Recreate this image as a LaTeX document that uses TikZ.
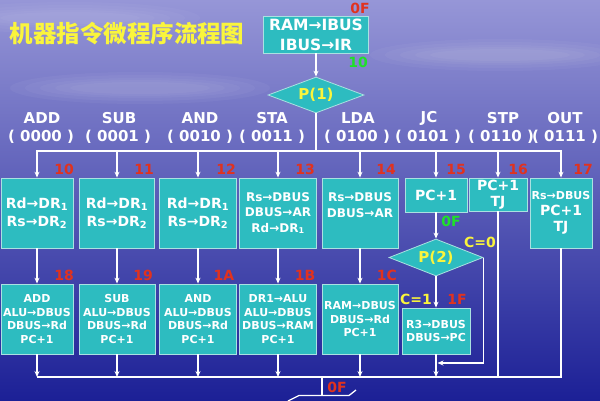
\documentclass[tikz,border=0pt]{standalone}
\usepackage{fontspec}
\setmainfont{DejaVu Sans}
\newfontfamily\cjk{Noto Sans CJK SC}
\usetikzlibrary{shapes.geometric,arrows.meta}
\definecolor{bgtop}{RGB}{150,150,215}
\definecolor{bgmid}{RGB}{70,72,188}
\definecolor{bgbot}{RGB}{28,32,150}
\definecolor{boxfill}{RGB}{45,188,192}
\definecolor{boxedge}{RGB}{170,225,225}
\definecolor{labred}{RGB}{225,50,30}
\definecolor{labgreen}{RGB}{30,225,40}
\definecolor{labyellow}{RGB}{250,245,60}
\tikzset{
  box/.style={draw=boxedge, line width=0.8pt, fill=boxfill, text=white, align=center, inner sep=0pt},
  dia/.style={diamond, aspect=2.7, draw=boxedge, line width=0.8pt, fill=boxfill, text=labyellow, inner sep=0pt, font=\fontsize{15}{15}\selectfont\bfseries},
  wl/.style={white, line width=1.6pt},
  ar/.style={wl, -{Stealth[length=6pt,width=5pt]}},
  lab/.style={text=white, inner sep=0pt, font=\fontsize{15}{15}\selectfont\bfseries},
  redlab/.style={text=labred, inner sep=0pt, font=\fontsize{14}{14}\selectfont\bfseries},
  greenlab/.style={text=labgreen, inner sep=0pt, font=\fontsize{14}{14}\selectfont\bfseries},
  yellab/.style={text=labyellow, inner sep=0pt, font=\fontsize{14}{14}\selectfont\bfseries},
  fA/.style={font=\fontsize{14}{18}\selectfont\bfseries},
  fB/.style={font=\fontsize{12}{15.5}\selectfont\bfseries},
  fC/.style={font=\fontsize{11}{13.5}\selectfont\bfseries},
}
\begin{document}
\begin{tikzpicture}[x=1pt,y=-1pt]
% background
\shade[top color=bgtop, middle color=bgmid, bottom color=bgbot] (0,0) rectangle (600,400);
\useasboundingbox (0,0) rectangle (600,400);
% faint clouds
\foreach \a/\b in {130/16,115/13,100/10,85/8,70/6}{
  \fill[white, opacity=0.04] (500,55) ellipse (\a pt and \b pt);
  \fill[white, opacity=0.04] (140,88) ellipse (\a pt and \b pt);
  \fill[white, opacity=0.035] (70,18) ellipse (\a pt and \b pt);
}

% title
\node[text=labyellow, inner sep=0pt, font=\cjk\fontsize{23.5}{23.5}\selectfont\bfseries] (title) at (127,34) {机器指令微程序流程图};

% top box and P(1)
\node[box, font=\fontsize{15.5}{20}\selectfont\bfseries, minimum width=105, minimum height=37] (top) at (316,34.5) {RAM→IBUS\\IBUS→IR};
\node[redlab] (l0Ftop) at (360,8) {0F};
\node[greenlab] (l10top) at (358,62) {10};
\node[dia, minimum width=96, minimum height=36] (p1) at (316,95) {P(1)};

% opcode labels
\node[lab] (nADD) at (42,118) {ADD};
\node[lab] (nSUB) at (119,118) {SUB};
\node[lab] (nAND) at (200,118) {AND};
\node[lab] (nSTA) at (272,118) {STA};
\node[lab] (nLDA) at (358,118) {LDA};
\node[lab] (nJC) at (429,118) {JC};
\node[lab] (nSTP) at (503,118) {STP};
\node[lab] (nOUT) at (565,118) {OUT};
\node[lab] (cADD) at (41,137) {( 0000 )};
\node[lab] (cSUB) at (118,137) {( 0001 )};
\node[lab] (cAND) at (200,137) {( 0010 )};
\node[lab] (cSTA) at (272,137) {( 0011 )};
\node[lab] (cLDA) at (357,137) {( 0100 )};
\node[lab] (cJC) at (428,137) {( 0101 )};
\node[lab] (cSTP) at (501,137) {( 0110 )};
\node[lab] (cOUT) at (565,137) {( 0111 )};

% row 1
\node[box, fA, minimum width=72, minimum height=70] (b10) at (37,213) {Rd→DR\textsubscript{1}\\Rs→DR\textsubscript{2}};
\node[box, fA, minimum width=75, minimum height=70] (b11) at (117,213) {Rd→DR\textsubscript{1}\\Rs→DR\textsubscript{2}};
\node[box, fA, minimum width=77, minimum height=70] (b12) at (198,213) {Rd→DR\textsubscript{1}\\Rs→DR\textsubscript{2}};
\node[box, fB, minimum width=77, minimum height=70] (b13) at (278,213) {Rs→DBUS\\DBUS→AR\\Rd→DR\textsubscript{1}};
\node[box, font=\fontsize{12}{16}\selectfont\bfseries, minimum width=76, minimum height=70] (b14) at (360,213) {Rs→DBUS\\DBUS→AR\\~};
\node[box, fA, minimum width=62, minimum height=34] (b15) at (436,195) {PC+1};
\node[box, font=\fontsize{14}{16}\selectfont\bfseries, minimum width=58, minimum height=33] (b16) at (498,194.5) {PC+1\\TJ};
\node[box, font=\fontsize{14}{16}\selectfont\bfseries, minimum width=62, minimum height=70] (b17) at (561,213) {{\fontsize{11}{16}\selectfont Rs→DBUS}\\PC+1\\TJ};
\node[redlab] (l10) at (64,169) {10};
\node[redlab] (l11) at (144,169) {11};
\node[redlab] (l12) at (226,169) {12};
\node[redlab] (l13) at (305,169) {13};
\node[redlab] (l14) at (386,169) {14};
\node[redlab] (l15) at (456,169) {15};
\node[redlab] (l16) at (518,169) {16};
\node[redlab] (l17) at (583,169) {17};

% P(2)
\node[dia, minimum width=94, minimum height=37] (p2) at (436,257.5) {P(2)};
\node[greenlab] (l0Fg) at (451,221) {0F};
\node[yellab] (lc0) at (480,242) {C=0};
\node[yellab] (lc1) at (416,299) {C=1};

% row 2
\node[box, fC, minimum width=72, minimum height=70] (b18) at (37,319) {ADD\\ALU→DBUS\\DBUS→Rd\\PC+1};
\node[box, fC, minimum width=76, minimum height=70] (b19) at (117,319) {SUB\\ALU→DBUS\\DBUS→Rd\\PC+1};
\node[box, fC, minimum width=77, minimum height=70] (b1A) at (198,319) {AND\\ALU→DBUS\\DBUS→Rd\\PC+1};
\node[box, fC, minimum width=77, minimum height=70] (b1B) at (278,319) {DR1→ALU\\ALU→DBUS\\DBUS→RAM\\PC+1};
\node[box, fC, minimum width=76, minimum height=70] (b1C) at (360,319) {RAM→DBUS\\DBUS→Rd\\PC+1};
\node[box, fC, minimum width=68, minimum height=46] (b1F) at (436,331) {R3→DBUS\\DBUS→PC};
\node[redlab] (l18) at (64,275) {18};
\node[redlab] (l19) at (143,275) {19};
\node[redlab] (l1A) at (224,275) {1A};
\node[redlab] (l1B) at (305,275) {1B};
\node[redlab] (l1C) at (387,275) {1C};
\node[redlab] (l1F) at (457,299) {1F};

% connectors: top
\coordinate (bus) at (316,151);
\draw[ar] (top) -- (p1);
\draw[wl] (p1.south) -- (bus);
\draw[ar] (bus) -| (b10.north);
\draw[ar] (bus) -| (b17.north);
\foreach \n in {b11,b12,b13,b14,b15,b16}{
  \draw[ar] (\n.north |- bus) -- (\n.north);
}
% row1 -> row2
\draw[ar] (b10) -- (b18);
\draw[ar] (b11) -- (b19);
\draw[ar] (b12) -- (b1A);
\draw[ar] (b13) -- (b1B);
\draw[ar] (b14) -- (b1C);
\draw[ar] (b15) -- (p2);
\draw[ar] (p2) -- (b1F);
\coordinate (j) at (437.5,363);
\draw[ar] (p2.east) |- (j);

% bottom bus
\coordinate (bot) at (322,377);
\draw[wl] (b17.south) |- (b18.south |- bot);
\draw[wl] (b16.south) -- (b16.south |- bot);
\foreach \n in {b18,b19,b1A,b1B,b1C,b1F}{
  \draw[ar] (\n.south) -- (\n.south |- bot);
}
\coordinate (exitA) at (322,395.5);
\coordinate (loopA) at (288,401);
\coordinate (loopB) at (299,395.5);
\coordinate (loopC) at (349,395.5);
\coordinate (loopD) at (356,390);
\draw[wl] (bot) -- (exitA);
\draw[wl, line width=1.3pt] (loopA) -- (loopB) -- (loopC) -- (loopD);
\node[redlab] (l0Fbot) at (337,387) {0F};
\end{tikzpicture}
\end{document}
